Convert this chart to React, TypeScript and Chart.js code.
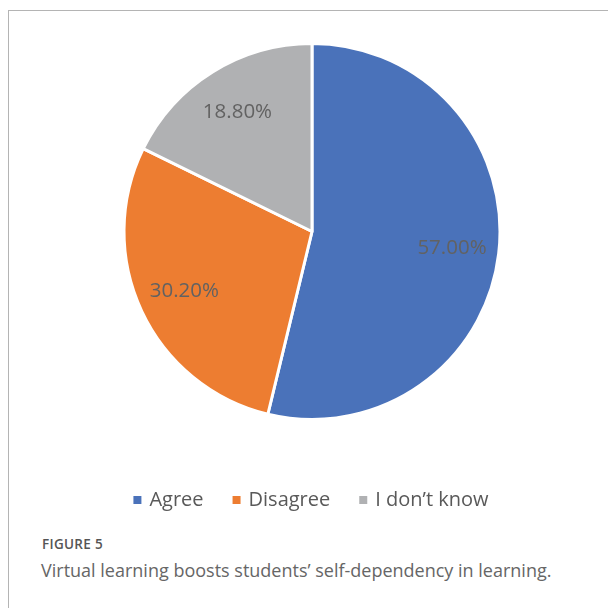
import React, { useEffect, useRef } from "react";
import { Chart, registerables } from "chart.js";

Chart.register(...registerables);

const categories = ["Agree", "Disagree", "I don’t know"];
const values = [57.0, 30.2, 18.8];
const valueLabels = ["57.00%", "30.20%", "18.80%"];
const sliceColors = ["#4A72BA", "#ED7D31", "#B0B1B3"];
const figureLabel = "FIGURE 5";
const captionText = "Virtual learning boosts students’ self-dependency in learning.";

const FONT = "'Open Sans', 'DejaVu Sans', sans-serif";

const sliceLabelPlugin = {
  id: "sliceLabels",
  afterDatasetsDraw(chart: any) {
    const ctx = chart.ctx;
    const meta = chart.getDatasetMeta(0);
    ctx.save();
    ctx.font = `20.5px ${FONT}`;
    ctx.fillStyle = "#626262";
    ctx.textAlign = "center";
    ctx.textBaseline = "middle";
    meta.data.forEach((arc: any, i: number) => {
      const { x, y, startAngle, endAngle, outerRadius } = arc.getProps(
        ["x", "y", "startAngle", "endAngle", "outerRadius"],
        true
      );
      const mid = (startAngle + endAngle) / 2;
      const r = outerRadius * 0.75;
      ctx.fillText(valueLabels[i], x + Math.cos(mid) * r, y + Math.sin(mid) * r);
    });
    ctx.restore();
  },
};

export default function App() {
  const canvasRef = useRef<HTMLCanvasElement | null>(null);

  useEffect(() => {
    const canvas = canvasRef.current;
    if (!canvas) return;
    const chart = new Chart(canvas, {
      type: "pie",
      data: {
        labels: categories,
        datasets: [
          {
            data: values,
            backgroundColor: sliceColors,
            borderColor: "#FFFFFF",
            borderWidth: 3,
            radius: 188,
          } as any,
        ],
      },
      options: {
        responsive: false,
        animation: false,
        layout: { padding: 0 },
        plugins: {
          tooltip: { enabled: false },
          legend: {
            position: "bottom",
            labels: {
              usePointStyle: true,
              pointStyle: "rect",
              boxWidth: 4,
              boxHeight: 11,
              padding: 31,
              color: "#595959",
              font: { family: FONT, size: 20 },
            },
          },
        },
      },
      plugins: [sliceLabelPlugin],
    });
    return () => chart.destroy();
  }, []);

  return (
    <div style={{ position: "relative", width: 608, height: 600, overflow: "hidden" }}>
      <div
        style={{
          position: "absolute",
          left: 0,
          top: 2,
          width: 700,
          height: 700,
          borderLeft: "1px solid #B4B4B4",
          borderTop: "1px solid #B4B4B4",
          boxSizing: "border-box",
        }}
      />
      <canvas
        ref={canvasRef}
        width={608}
        height={516}
        style={{ position: "absolute", left: 0, top: -4, width: 608, height: 516 }}
      />
      <div
        style={{
          position: "absolute",
          left: 34,
          top: 528,
          fontFamily: FONT,
          fontSize: 13.5,
          fontWeight: 600,
          letterSpacing: 0.3,
          color: "#555555",
          lineHeight: "16px",
        }}
      >
        {figureLabel}
      </div>
      <div
        style={{
          position: "absolute",
          left: 33,
          top: 550,
          fontFamily: FONT,
          fontSize: 18,
          color: "#666666",
          lineHeight: "24px",
          whiteSpace: "nowrap",
        }}
      >
        {captionText}
      </div>
    </div>
  );
}
